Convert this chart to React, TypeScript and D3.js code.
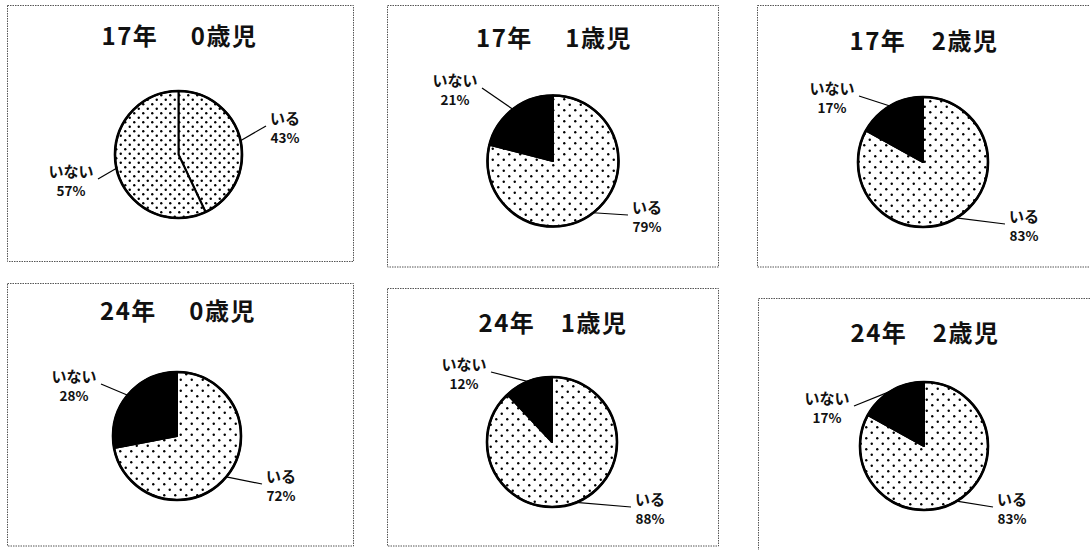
import React from 'react';
import * as d3 from 'd3';

// ---- data ----
const titles = ['17年\u3000 0歳児', '17年\u3000 1歳児', '17年\u30002歳児', '24年\u3000 0歳児', '24年\u30001歳児', '24年\u30002歳児'];
const sliceNames = ['いる', 'いない'];
const iruValues = [43, 79, 83, 72, 88, 83];
const inaiValues = [57, 21, 17, 28, 12, 17];

// ---- layout (positions / styles) ----
const panelBoxes = [
  [7.5, 5.5, 346, 256],
  [387.5, 5.5, 331, 261.5],
  [757.5, 5.5, 340, 261.5],
  [7.5, 283.5, 346, 262.5],
  [387.5, 288.5, 331, 257.5],
  [758.5, 298.5, 340, 260],
];
const pieCenters = [
  [178.5, 154.5, 63.5],
  [553, 161, 65.5],
  [923, 162, 65],
  [177, 436, 64],
  [552, 442, 65],
  [924, 446, 64],
];
const titleBaselines = [45, 47, 50, 320, 332, 342];
// label block centres relative to pie centre: [iru, inai]
const labelOffsets = [
  [[106.5, -27.5], [-107.5, 25.5]],
  [[94, 55], [-98, -72]],
  [[101, 63], [-91, -65]],
  [[104, 49], [-103, -51]],
  [[98, 66], [-88, -69]],
  [[88, 62], [-97, -39]],
];
const inaiIsBlack = [false, true, true, true, true, true];
const dotSizes = [9, 11, 11, 11, 11, 11];

const FONT = '"Noto Sans CJK JP", "Noto Sans", sans-serif';

function Panel({ i }: { i: number }) {
  const [bx, by, bw, bh] = panelBoxes[i];
  const [cx, cy, r] = pieCenters[i];
  const values = [iruValues[i], inaiValues[i]];
  const pie = d3.pie<number>().sort(null).value((d) => d).startAngle(0).endAngle(2 * Math.PI);
  const arcs = pie(values);
  const arc = d3.arc<d3.PieArcDatum<number>>().innerRadius(0).outerRadius(r);
  const patId = `dots${i}`;
  const ds = dotSizes[i];
  return (
    <g>
      <defs>
        <pattern id={patId} width={ds} height={ds} patternUnits="userSpaceOnUse" x={cx} y={cy}>
          <rect width={ds} height={ds} fill="#fff" />
          <circle cx={ds / 4} cy={ds / 4} r={1.2} fill="#000" />
          <circle cx={(3 * ds) / 4} cy={(3 * ds) / 4} r={1.2} fill="#000" />
        </pattern>
      </defs>
      <rect x={bx} y={by} width={bw} height={bh} fill="#fff" stroke="#555" strokeWidth={1} strokeDasharray="1.5 1" />
      <text x={cx + 1} y={titleBaselines[i]} textAnchor="middle" fontFamily={FONT} fontWeight={700} fontSize={24} letterSpacing={1.5} fill="#111" style={{ whiteSpace: 'pre' }}>
        {titles[i]}
      </text>
      <g transform={`translate(${cx},${cy})`}>
        {arcs.map((a, k) => (
          <path key={k} d={arc(a) || ''} fill={k === 1 && inaiIsBlack[i] ? '#000' : `url(#${patId})`} stroke="#000" strokeWidth={2} strokeLinejoin="round" />
        ))}
        <circle r={r} fill="none" stroke="#000" strokeWidth={2.6} />
        {arcs.map((a, k) => {
          const mid = (a.startAngle + a.endAngle) / 2;
          const sx = r * Math.sin(mid);
          const sy = -r * Math.cos(mid);
          const [lx, ly] = labelOffsets[i][k];
          const halfW = k === 0 ? 14 : 23;
          const right = lx > 0;
          const ex = right ? lx - halfW - 5 : lx + halfW + 4;
          const ey = ly - 1;
          return (
            <g key={'l' + k}>
              <line x1={sx} y1={sy} x2={ex} y2={ey} stroke="#000" strokeWidth={1.2} />
              <text x={lx} y={ly - 3} textAnchor="middle" fontFamily={FONT} fontWeight={700} fontSize={15} fill="#111">
                {sliceNames[k]}
              </text>
              <text x={lx} y={ly + 15.5} textAnchor="middle" fontFamily={FONT} fontWeight={700} fontSize={13.5} fill="#111">
                {`${values[k]}%`}
              </text>
            </g>
          );
        })}
      </g>
    </g>
  );
}

export default function App() {
  return (
    <svg width={1090} height={550} style={{ position: 'absolute', left: 0, top: 0, background: '#fff' }}>
      <rect width={1090} height={550} fill="#fff" />
      {titles.map((_, i) => (
        <Panel key={i} i={i} />
      ))}
    </svg>
  );
}
